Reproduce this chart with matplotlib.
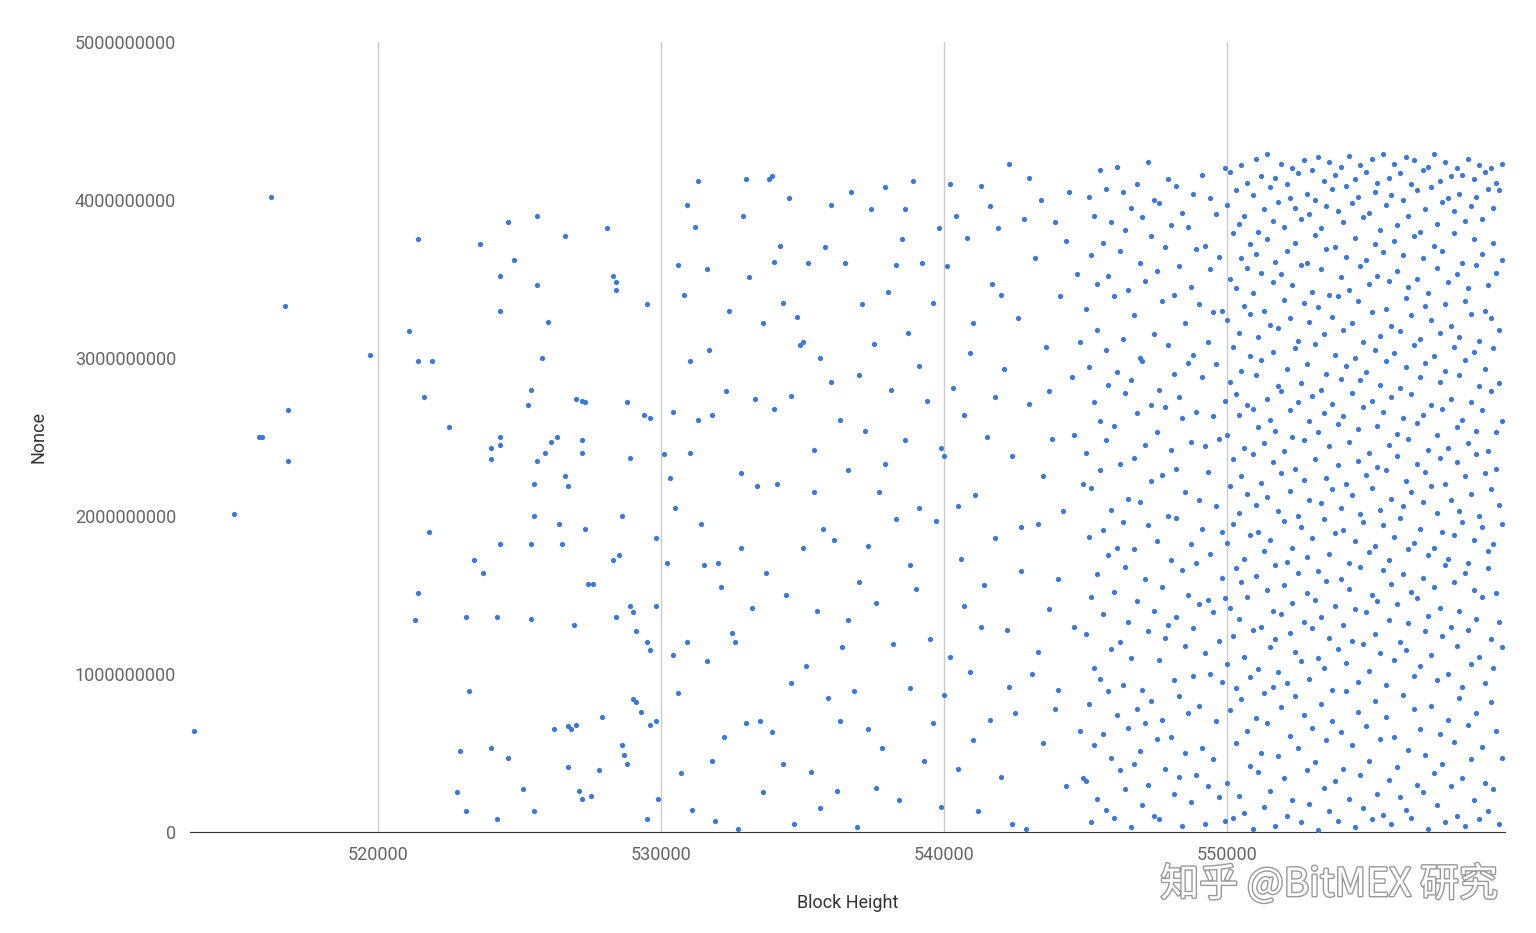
import numpy as np
import matplotlib
matplotlib.use("Agg")
import matplotlib.pyplot as plt
import matplotlib.patheffects as pe

# block height offset from 500000, nonce in units of 1e8
sparse_x = [13.5, 16.2, 15.8, 15.9, 16.7, 16.8, 16.8, 14.9, 19.7, 21.4, 21.1, 21.4, 21.9, 21.6, 21.8, 21.4, 21.3,
            22.5, 22.9, 22.8, 23.1, 23.2, 23.1, 23.6, 23.4, 23.7, 24.0, 24.0, 24.3, 24.3, 24.3, 24.3, 24.6, 24.8,
            24.3, 24.2, 24.0, 24.2, 24.6, 25.1, 25.4, 25.3, 25.4, 25.5, 25.6, 25.6, 25.8, 25.6, 25.9, 25.5, 25.4,
            25.5, 26.0, 26.1, 26.3, 26.2, 26.6, 26.6, 26.7, 26.5, 26.4, 26.7, 26.8, 26.7, 27.0, 26.9, 27.0, 27.2,
            27.1, 27.2, 27.3, 27.2, 27.2, 27.3, 27.4, 27.6, 27.5, 27.9, 27.8, 28.1, 28.3, 28.4, 28.4, 28.6, 28.8,
            28.3, 28.5, 28.4, 28.6, 28.7, 28.8, 28.9, 28.9, 29.0, 29.1, 29.0, 29.1, 29.3, 29.4, 29.6, 29.5, 29.5,
            29.6, 29.6, 29.8, 29.8, 29.8, 29.5, 29.9]
sparse_y = [6.4, 40.2, 25.0, 25.0, 33.3, 26.7, 23.5, 20.1, 30.2, 37.5, 31.7, 29.8, 29.8, 27.5, 19.0, 15.1, 13.4,
            25.6, 5.1, 2.5, 1.3, 8.9, 13.6, 37.2, 17.2, 16.4, 24.3, 23.6, 25.0, 24.5, 35.2, 33.0, 38.6, 36.2,
            18.2, 13.6, 5.3, 0.8, 4.7, 2.7, 28.0, 27.0, 18.2, 20.0, 39.0, 34.6, 30.0, 23.5, 24.0, 22.0, 13.5,
            1.3, 32.3, 24.7, 25.0, 6.5, 37.7, 22.5, 21.9, 18.2, 19.5, 6.7, 6.5, 4.1, 6.8, 13.1, 27.4, 27.3,
            2.6, 2.1, 27.2, 24.8, 24.0, 19.2, 15.7, 15.7, 2.3, 7.3, 3.9, 38.2, 35.2, 34.8, 34.3, 20.0, 27.2,
            17.2, 17.5, 13.6, 5.5, 4.9, 4.3, 23.7, 14.3, 13.9, 12.7, 8.4, 8.2, 7.6, 26.4, 26.2, 33.4, 12.0,
            11.5, 6.8, 14.3, 18.6, 7.0, 0.8, 2.1]

mid_x = [30.1, 30.2, 30.3, 30.4, 30.5, 30.6, 30.7, 30.8, 30.9, 30.9, 31.0, 31.1, 31.2, 31.3, 31.3, 31.5, 31.6, 31.6,
         31.7, 31.8, 31.9, 32.0, 32.1, 32.2, 32.3, 32.5, 32.6, 32.7, 32.8, 32.9, 33.0, 33.0, 33.1, 33.3, 33.4, 33.5,
         33.6, 33.7, 33.8, 33.9, 33.9, 34.0, 34.1, 34.2, 34.3, 34.4, 34.5, 34.6, 34.7, 34.8, 34.9, 35.0, 35.1, 35.2,
         35.3, 35.4, 35.5, 35.6, 35.7, 35.8, 35.9, 36.0, 36.1, 36.2, 36.3, 36.4, 36.5, 36.6, 36.7, 36.8, 36.9, 37.0,
         37.1, 37.2, 37.3, 37.4, 37.5, 37.6, 37.7, 37.8, 37.9, 38.0, 38.1, 38.2, 38.3, 38.4, 38.5, 38.6, 38.7, 38.8,
         38.9, 39.0, 39.1, 39.2, 39.3, 39.4, 39.5, 39.6, 39.7, 39.8, 39.9, 40.0, 40.0, 40.1, 40.2, 40.3, 40.4, 40.5,
         40.6, 40.7, 40.8, 40.9, 41.0, 41.1, 41.2, 41.3, 41.4, 41.5, 41.6, 41.7, 41.8, 41.9, 42.0, 42.1, 42.2, 42.3,
         42.4, 42.5, 42.6, 42.7, 42.8, 42.9, 43.0, 43.1, 43.2, 43.3, 43.4, 43.5, 43.6, 43.7, 43.8, 43.9, 44.0, 44.1,
         44.2, 44.3, 44.4, 44.5, 44.6, 44.7, 44.8, 44.9,
         30.4, 31.0, 31.8, 32.4, 33.2, 34.0, 34.6, 35.0, 35.6, 36.0, 36.6, 37.0, 37.6, 37.9, 38.3, 38.8, 39.1, 39.6,
         40.2, 40.5, 40.9, 41.3, 41.8, 42.0, 42.4, 42.7, 43.0, 43.3, 43.7, 44.0, 44.3, 44.6, 44.9, 38.6, 39.9, 41.0,
         42.3, 43.5, 44.8, 37.3, 36.3, 35.4, 34.3, 33.6, 32.8, 31.4, 30.6, 40.7, 41.6, 43.9]
mid_y = [23.9, 17.0, 22.4, 26.6, 20.5, 8.8, 3.7, 34.0, 39.7, 12.0, 24.0, 1.4, 38.3, 41.2, 26.1, 16.9, 35.6, 10.8,
         30.5, 26.4, 0.7, 17.0, 15.5, 6.0, 27.9, 12.6, 12.0, 0.2, 18.0, 39.0, 41.3, 6.9, 35.1, 27.4, 21.9, 7.0,
         32.2, 16.4, 41.3, 41.5, 6.3, 36.1, 22.0, 37.1, 4.3, 15.0, 40.1, 27.6, 0.5, 32.6, 30.8, 18.0, 10.5, 36.0,
         3.8, 24.2, 14.0, 30.0, 19.2, 37.0, 8.5, 28.5, 18.5, 2.6, 26.1, 11.7, 36.0, 22.9, 40.5, 8.9, 0.3, 15.8,
         33.4, 25.4, 6.5, 39.4, 30.9, 14.5, 21.5, 5.3, 40.8, 34.2, 28.0, 11.9, 19.8, 2.0, 37.5, 24.8, 31.6, 9.1,
         41.2, 15.4, 20.5, 36.0, 4.5, 27.3, 12.2, 33.5, 19.7, 38.2, 1.6, 8.7, 23.8, 35.8, 11.1, 28.1, 39.0, 4.0,
         17.3, 26.4, 37.6, 10.1, 32.2, 21.3, 1.3, 40.9, 15.6, 25.0, 7.1, 34.7, 18.6, 38.2, 3.5, 29.3, 12.8, 42.3,
         23.8, 7.5, 32.5, 16.5, 38.8, 0.2, 27.1, 10.0, 36.3, 19.5, 40.0, 5.6, 30.7, 14.1, 24.9, 38.6, 9.0, 33.9,
         20.3, 2.9, 40.5, 28.8, 13.0, 35.3, 6.4, 22.0,
         11.2, 29.8, 4.5, 33.0, 14.2, 26.8, 9.4, 31.0, 1.5, 39.7, 13.4, 28.9, 2.8, 23.3, 35.9, 16.9, 29.5, 6.9,
         41.0, 20.6, 30.3, 13.0, 27.5, 34.0, 0.5, 19.3, 41.4, 11.4, 27.9, 16.0, 37.4, 25.1, 3.4, 39.4, 24.3, 5.8,
         9.2, 22.5, 31.0, 18.1, 7.0, 21.5, 33.5, 2.5, 22.7, 19.5, 35.9, 14.3, 39.6, 7.8]

# dense region: one list of nonces per block-height column
dense_x = [45.0, 45.1, 45.2, 45.3, 45.4, 45.5, 45.6, 45.7, 45.8, 45.9, 46.0, 46.1, 46.2, 46.3, 46.4, 46.5, 46.6,
           46.7, 46.8, 46.9, 47.0, 47.1, 47.2, 47.3, 47.4, 47.5, 47.6, 47.7, 47.8, 47.9, 48.0, 48.1, 48.2, 48.3,
           48.4, 48.5, 48.6, 48.7, 48.8, 48.9, 49.0, 49.1, 49.2, 49.3, 49.4, 49.5, 49.6, 49.7, 49.8, 49.9]
dense_y = [[12.5, 33.1, 3.2, 24.0], [40.2, 18.7, 8.1, 29.4], [0.6, 36.5, 14.9, 21.8], [27.2, 5.5, 39.0, 10.4],
           [16.3, 31.8, 2.1, 34.7], [22.9, 9.7, 41.9, 26.0], [13.8, 37.3, 6.2, 19.1], [30.5, 1.4, 24.8, 40.7],
           [8.9, 17.5, 35.2, 28.3], [38.6, 11.6, 4.7, 20.4], [25.7, 33.9, 15.2, 0.9], [7.4, 29.1, 42.1, 18.0],
           [36.8, 12.0, 23.3, 3.9], [19.6, 40.5, 9.3, 31.2], [2.7, 27.8, 16.8, 38.1], [34.3, 6.6, 21.1, 13.3],
           [11.0, 39.5, 28.6, 0.3], [23.7, 4.3, 32.7, 17.9], [41.0, 14.6, 7.8, 26.5], [5.1, 20.9, 36.0, 30.0],
           [29.8, 9.0, 1.7, 38.9], [16.0, 34.9, 24.5, 6.9], [42.4, 12.7, 19.4, 3.0], [8.3, 27.0, 37.7, 22.2],
           [31.5, 1.0, 14.0, 40.0], [18.4, 25.3, 5.9, 35.5], [0.8, 39.8, 10.9, 28.0], [22.6, 15.5, 33.6, 7.1],
           [37.0, 4.0, 26.9, 12.3], [13.1, 30.8, 20.0, 41.3], [6.0, 24.2, 38.4, 17.2], [34.0, 9.6, 2.4, 29.0],
           [19.9, 40.9, 13.6, 23.0], [3.5, 27.5, 35.8, 8.6], [26.2, 16.6, 0.4, 39.2], [11.8, 32.2, 21.5, 5.0],
           [38.3, 7.5, 29.7, 15.0], [1.9, 24.7, 18.2, 34.5], [30.2, 12.9, 40.4, 9.9], [17.0, 3.6, 26.6, 36.9],
           [8.0, 33.4, 14.4, 21.0], [41.6, 19.2, 5.3, 28.8], [24.4, 0.5, 37.1, 11.3], [14.7, 31.0, 22.8, 2.9],
           [35.6, 10.0, 17.6, 40.1], [4.6, 26.3, 32.9, 13.9], [20.6, 39.1, 7.0, 29.6], [12.1, 2.2, 24.9, 36.4],
           [33.0, 16.1, 9.5, 19.0], [27.3, 42.0, 0.7, 14.8]]

dense2_x = [50.0, 50.1, 50.2, 50.3, 50.4, 50.5, 50.6, 50.7, 50.8, 50.9, 51.0, 51.1, 51.2, 51.3, 51.4, 51.5, 51.6,
            51.7, 51.8, 51.9, 52.0, 52.1, 52.2, 52.3, 52.4, 52.5, 52.6, 52.7, 52.8, 52.9, 53.0, 53.1, 53.2, 53.3,
            53.4, 53.5, 53.6, 53.7, 53.8, 53.9, 54.0, 54.1, 54.2, 54.3, 54.4, 54.5, 54.6, 54.7, 54.8, 54.9, 55.0,
            55.1, 55.2, 55.3, 55.4, 55.5, 55.6, 55.7, 55.8, 55.9, 56.0, 56.1, 56.2, 56.3, 56.4, 56.5, 56.6, 56.7,
            56.8, 56.9, 57.0, 57.1, 57.2, 57.3, 57.4, 57.5, 57.6, 57.7, 57.8, 57.9, 58.0, 58.1, 58.2, 58.3, 58.4,
            58.5, 58.6, 58.7, 58.8, 58.9, 59.0, 59.1, 59.2, 59.3, 59.4, 59.5, 59.6, 59.7]
dense2_y = [
    [3.1, 10.6, 18.3, 25.1, 32.4, 39.7], [7.7, 14.2, 21.9, 28.5, 35.0, 41.8], [0.9, 12.4, 19.5, 23.6, 30.7, 37.9],
    [5.6, 9.1, 16.7, 27.7, 34.4, 40.6], [2.3, 13.5, 20.2, 26.4, 31.6, 38.5], [8.4, 15.8, 22.5, 29.2, 36.3, 42.2],
    [1.2, 11.1, 17.3, 24.3, 33.3, 39.0], [6.4, 14.9, 21.4, 27.0, 35.7, 41.1], [4.2, 9.8, 18.8, 30.1, 32.8, 37.2],
    [0.2, 12.8, 23.9, 26.8, 34.1, 40.3], [7.2, 16.2, 20.7, 28.9, 36.6, 42.6], [3.8, 10.3, 19.0, 25.6, 31.3, 38.0],
    [5.0, 13.0, 22.1, 29.9, 35.4, 41.5], [1.6, 8.8, 17.8, 24.6, 33.0, 39.4], [6.9, 15.3, 21.2, 27.4, 37.5, 42.9],
    [2.6, 11.7, 18.5, 26.1, 32.1, 40.8], [9.2, 14.0, 23.4, 30.4, 34.8, 38.7], [0.4, 12.2, 16.9, 25.4, 36.1, 41.4],
    [4.8, 10.1, 20.3, 28.2, 31.9, 39.9], [7.9, 13.8, 22.7, 27.9, 35.3, 42.3], [3.4, 15.6, 19.7, 24.1, 33.7, 38.3],
    [1.0, 9.4, 17.1, 29.3, 36.8, 41.0], [6.1, 12.6, 21.6, 26.7, 32.5, 40.1], [2.0, 14.5, 18.0, 25.0, 34.6, 42.0],
    [8.6, 11.4, 23.0, 30.6, 37.3, 39.5], [5.3, 16.4, 20.0, 27.2, 31.1, 41.7], [0.6, 10.8, 19.3, 28.4, 35.9, 38.8],
    [7.4, 13.3, 22.3, 24.8, 33.5, 42.5], [3.9, 15.1, 17.4, 29.6, 36.0, 40.4], [1.8, 9.7, 21.0, 26.0, 32.3, 39.1],
    [6.6, 12.9, 18.6, 27.6, 34.2, 41.9], [4.4, 14.7, 23.6, 30.9, 37.8, 40.0], [0.1, 11.0, 16.5, 25.3, 33.2, 42.7],
    [8.1, 13.6, 20.8, 28.0, 35.6, 38.2], [2.8, 10.4, 19.8, 26.5, 31.5, 41.2], [5.8, 15.9, 22.4, 29.0, 36.9, 39.6],
    [1.3, 12.3, 17.6, 24.4, 34.0, 42.4], [7.0, 9.0, 21.7, 27.1, 32.6, 40.7], [3.2, 14.3, 18.9, 30.2, 37.0, 41.6],
    [0.7, 11.6, 23.2, 25.8, 33.9, 39.3], [6.3, 16.0, 20.5, 28.7, 35.1, 42.1], [4.0, 13.1, 19.1, 26.3, 31.8, 38.6],
    [8.9, 10.7, 22.0, 29.5, 36.4, 40.9], [2.1, 15.4, 17.0, 24.7, 34.3, 42.8], [5.5, 12.1, 21.3, 27.8, 32.2, 39.8],
    [0.3, 14.1, 18.4, 30.0, 37.6, 41.3], [7.6, 9.5, 23.5, 25.5, 33.6, 40.2], [3.6, 16.8, 20.1, 28.6, 35.8, 42.2],
    [1.5, 11.9, 19.6, 26.9, 31.0, 38.9], [6.7, 13.9, 22.6, 29.1, 36.2, 41.8], [4.5, 10.2, 17.7, 24.0, 34.7, 39.2],
    [0.8, 15.0, 21.8, 27.3, 32.9, 42.6], [8.3, 12.5, 18.1, 30.5, 37.2, 40.5], [2.4, 14.6, 23.1, 25.7, 35.2, 41.1],
    [5.9, 11.3, 20.4, 28.3, 31.4, 38.1], [1.1, 16.6, 19.4, 26.6, 36.7, 42.9], [7.3, 9.3, 22.9, 29.8, 33.1, 39.7],
    [3.3, 13.4, 17.2, 24.5, 34.9, 41.4], [0.5, 15.7, 21.1, 27.5, 32.0, 40.3], [6.0, 10.9, 18.7, 30.3, 37.4, 42.3],
    [4.1, 14.4, 23.8, 25.2, 35.5, 38.4], [2.2, 12.0, 19.9, 28.1, 31.7, 41.7], [8.7, 16.3, 20.6, 26.2, 36.5, 40.0],
    [1.4, 11.5, 22.2, 29.4, 33.8, 42.7], [5.2, 13.2, 17.9, 24.9, 34.5, 39.0], [0.9, 15.2, 21.5, 27.7, 32.7, 41.0],
    [7.8, 9.9, 18.3, 30.8, 37.7, 42.5], [3.0, 14.8, 23.3, 25.9, 35.0, 40.6], [6.5, 10.5, 19.2, 28.8, 31.2, 38.0],
    [2.5, 16.1, 20.9, 26.4, 36.3, 41.9], [4.9, 12.7, 22.8, 29.7, 33.3, 39.4], [0.2, 13.7, 17.5, 24.2, 34.1, 42.1],
    [8.0, 11.2, 21.9, 27.0, 32.4, 40.8], [3.7, 15.5, 18.0, 30.1, 37.1, 42.9], [1.7, 9.6, 20.2, 25.1, 35.7, 38.5],
    [6.2, 14.2, 23.7, 28.5, 31.6, 41.2], [4.3, 12.4, 19.0, 26.8, 36.8, 39.9], [0.6, 16.9, 22.0, 29.2, 33.4, 42.4],
    [7.1, 10.0, 17.3, 24.3, 34.8, 40.1], [2.9, 13.0, 21.0, 27.4, 32.0, 41.5], [5.7, 15.8, 18.8, 30.7, 37.9, 39.3],
    [1.0, 11.8, 23.4, 25.6, 35.3, 42.0], [8.5, 14.0, 20.3, 28.9, 31.3, 40.4], [3.4, 9.2, 19.6, 26.1, 36.0, 41.6],
    [0.4, 16.4, 22.5, 29.9, 33.6, 38.7], [6.8, 12.8, 17.0, 24.6, 34.4, 42.6], [4.6, 10.6, 21.4, 27.2, 32.8, 39.6],
    [2.0, 15.3, 18.5, 30.4, 37.5, 41.3], [7.5, 13.5, 23.9, 25.4, 35.9, 40.2], [0.8, 11.1, 20.0, 28.2, 31.1, 42.2],
    [5.4, 14.9, 19.3, 26.7, 36.6, 38.8], [3.1, 9.4, 22.7, 29.3, 33.0, 41.8], [1.3, 16.7, 17.8, 24.1, 34.6, 40.7],
    [8.2, 12.2, 21.7, 27.9, 32.5, 42.0], [2.7, 10.4, 18.2, 30.6, 37.3, 39.5], [6.4, 15.1, 23.0, 25.3, 35.4, 41.1],
    [0.5, 13.3, 20.7, 28.4, 31.8, 40.6], [4.7, 11.7, 19.5, 26.0, 36.2, 42.3]]

x_ticks = [520000, 530000, 540000, 550000]
y_ticks = [0, 1000000000, 2000000000, 3000000000, 4000000000, 5000000000]

# expand the columns into point lists
xs = list(sparse_x) + list(mid_x)
ys = list(sparse_y) + list(mid_y)
for cols_x, cols_y in ((dense_x, dense_y), (dense2_x, dense2_y)):
    for cx, col in zip(cols_x, cols_y):
        xs += [cx] * len(col)
        ys += col
xs = 500000 + np.array(xs) * 1000
ys = np.array(ys) * 1e8

plt.rcParams['font.family'] = ['Roboto', 'DejaVu Sans']
fig = plt.figure(figsize=(15.36, 9.33), dpi=100)
ax = fig.add_axes([0.1237, 0.1083, 0.8563, 0.8467])

ax.scatter(xs, ys, s=14, color='#3c78d8', linewidths=0, zorder=3)

ax.set_xlim(513350, 559820)
ax.set_ylim(0, 5e9)
ax.set_xticks(x_ticks)
ax.set_xticklabels([str(t) for t in x_ticks])
ax.set_yticks(y_ticks)
ax.set_yticklabels([str(t) for t in y_ticks])
ax.tick_params(length=0, labelsize=13, colors='#666666', pad=10)
ax.grid(axis='x', color='#cccccc', lw=1)
for side in ['top', 'right', 'left']:
    ax.spines[side].set_visible(False)
ax.spines['bottom'].set_color('#333333')
ax.set_xlabel('Block Height', fontsize=13, color='#333333', labelpad=22)
ax.set_ylabel('Nonce', fontsize=13, color='#333333', labelpad=20)

fig.text(0.975, 0.03, '知乎 @BitMEX 研究', ha='right', va='bottom', fontsize=28,
         color='white', family=['Noto Sans CJK SC', 'DejaVu Sans'],
         path_effects=[pe.withStroke(linewidth=2, foreground='#999999')])

fig.savefig('out.png', dpi=100)
